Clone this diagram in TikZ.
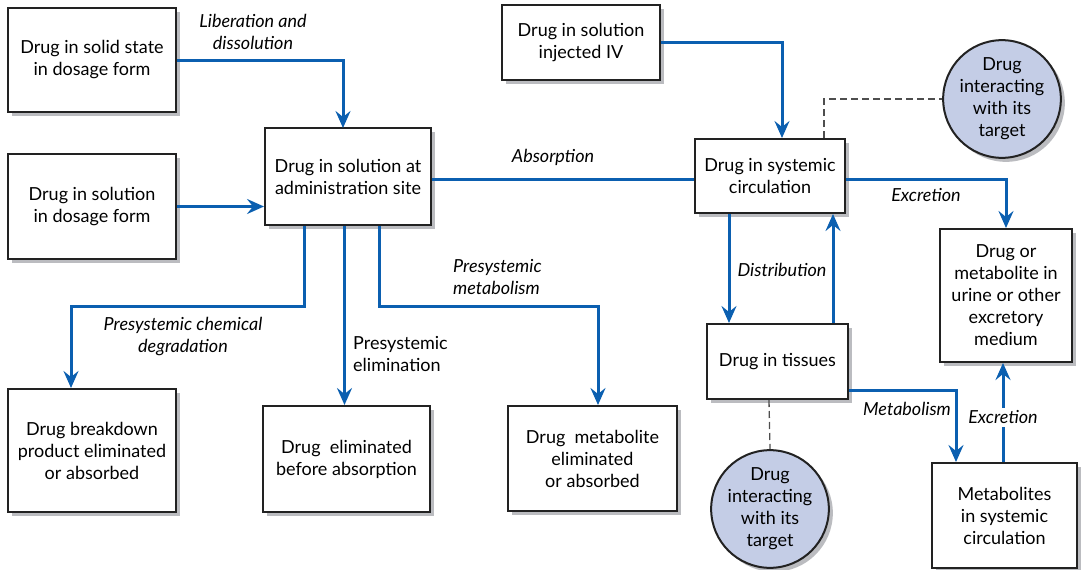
\documentclass[tikz,border=0pt]{standalone}
\usepackage{fontspec}
\setmainfont{Lato}
\usetikzlibrary{arrows.meta,shadows,calc}
\definecolor{lineblue}{HTML}{0B5FB0}
\definecolor{circfill}{HTML}{C4CDE6}
\definecolor{shadowgray}{HTML}{BBBCC0}
\definecolor{boxline}{HTML}{222222}
\begin{document}
\begin{tikzpicture}[x=1pt,y=-1pt,
  font=\fontsize{18}{22}\selectfont,
  box/.style={draw=boxline,line width=2pt,fill=white,align=center,inner sep=0pt,
    drop shadow={shadow xshift=4pt,shadow yshift=-4pt,fill=shadowgray,opacity=1}},
  targetcirc/.style={circle,draw=boxline,line width=2pt,fill=circfill,align=center,inner sep=0pt,minimum size=114pt,
    drop shadow={shadow xshift=4pt,shadow yshift=-4pt,fill=shadowgray,opacity=1}},
  flow/.style={draw=lineblue,line width=3pt},
  arr/.style={flow,-{Stealth[length=17pt,width=15pt,inset=6pt]}},
  link/.style={draw=boxline!80,line width=1.3pt,dash pattern=on 7pt off 4pt},
  lbl/.style={font=\fontsize{18}{22}\selectfont\itshape,align=center,inner sep=1pt},
  lblup/.style={font=\fontsize{18}{22}\selectfont,align=left,inner sep=1pt}]
\useasboundingbox (0,0) rectangle (1082,570);

\node[box,minimum width=168pt,minimum height=104pt] (A) at (92,60) {Drug in solid state\\in dosage form};
\node[box,minimum width=168pt,minimum height=105pt] (B) at (92,206.5) {Drug in solution\\in dosage form};
\node[box,minimum width=166pt,minimum height=97pt] (C) at (348,176.5) {Drug in solution at\\administration site};
\node[box,minimum width=158pt,minimum height=75pt] (D) at (581,42.5) {Drug in solution\\injected IV};
\node[box,minimum width=150pt,minimum height=74pt] (E) at (770,176) {Drug in systemic\\circulation};
\node[targetcirc] (F) at (1002,99) {Drug\\interacting\\with its\\target};
\node[box,minimum width=132pt,minimum height=133pt] (G) at (1006,295.5) {Drug or\\metabolite in\\urine or other\\excretory\\medium};
\node[box,minimum width=141pt,minimum height=75pt] (H) at (777.5,361.5) {Drug in tissues};
\node[targetcirc] (I) at (770,509) {Drug\\interacting\\with its\\target};
\node[box,minimum width=145pt,minimum height=105pt] (J) at (1004.5,515.5) {Metabolites\\in systemic\\circulation};
\node[box,minimum width=168pt,minimum height=123pt] (K) at (92,450.5) {Drug breakdown\\product eliminated\\or absorbed};
\node[box,minimum width=167pt,minimum height=106pt] (L) at (346.5,459) {Drug\ \ eliminated\\before absorption};
\node[box,minimum width=169pt,minimum height=105pt] (M) at (592.5,458.5) {Drug\ \ metabolite\\eliminated\\or absorbed};

% connectors
\coordinate (cA) at (343,128);
\draw[arr] (A.east) -| (cA);
\draw[arr] (B.east) -- (B.east -| C.west);
\draw[flow] ([yshift=-2.5pt]C.east) -- ([yshift=-2.5pt]C.east -| E.west);
\draw[arr] (D.east) -| ([xshift=12pt]E.north);
\draw[arr] ([yshift=-3pt]E.east) -| (G.north);
\draw[arr] ([xshift=-41pt]E.south) -- ([xshift=-41pt]E.south |- H.north);
\draw[arr] ([xshift=55.5pt]H.north) -- ([xshift=55.5pt]H.north |- E.south);
\draw[arr] ([yshift=-28.5pt]H.east) -| ([xshift=-48.5pt]J.north);
\draw[arr] ([xshift=-1.5pt]J.north) -- ([xshift=-1.5pt]J.north |- G.south)
  node[pos=0.45,lbl,fill=white,inner sep=3pt] (lex2) {Excretion};
\coordinate (k1) at (304,306);
\coordinate (k2) at (71,306);
\draw[arr] (k1 |- C.south) -- (k1) -- (k2) -- (k2 |- K.north);
\draw[arr] ([xshift=-3.5pt]C.south) -- ([xshift=-3.5pt]C.south |- L.north);
\coordinate (m1) at (379,306);
\coordinate (m2) at (598,306);
\draw[arr] (m1 |- C.south) -- (m1) -- (m2) -- (m2 |- M.north);
\draw[link] ([xshift=54pt]E.north) |- (F.west);
\draw[link] ([xshift=-8.5pt]H.south) -- (I.north);

% labels
\node[lbl] (l1) at (253,32) {Liberation and\\dissolution};
\node[lbl] (l2) at (553,157) {Absorption};
\node[lbl] (l3) at (926,195) {Excretion};
\node[lbl] (l4) at (782,270) {Distribution};
\node[lbl] (l5) at (907,409) {Metabolism};
\node[lbl] (l6) at (183,337) {Presystemic chemical\\degradation};
\node[lblup,anchor=west] (l7) at (352,354) {Presystemic\\elimination};
\node[lbl,align=left,anchor=west] (l8) at (452,277) {Presystemic\\metabolism};
\end{tikzpicture}
\end{document}
